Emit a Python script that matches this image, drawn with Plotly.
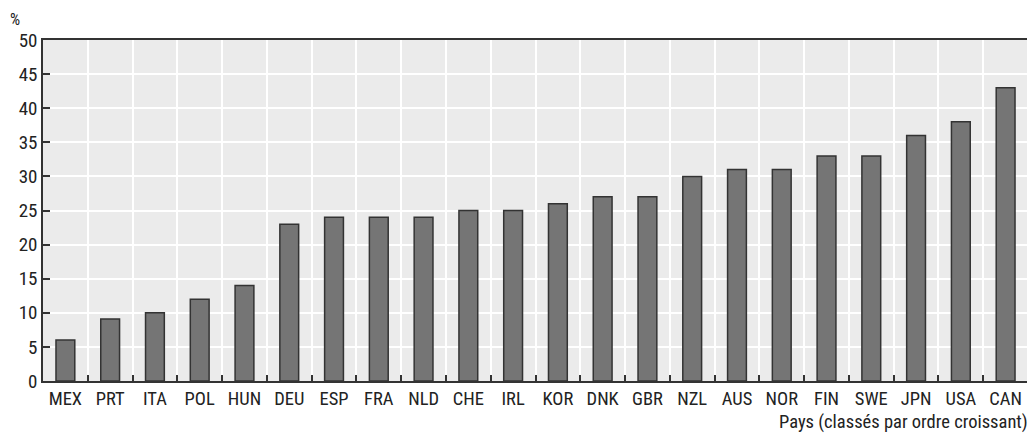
import plotly.graph_objects as go

countries = ["MEX", "PRT", "ITA", "POL", "HUN", "DEU", "ESP", "FRA", "NLD", "CHE", "IRL",
             "KOR", "DNK", "GBR", "NZL", "AUS", "NOR", "FIN", "SWE", "JPN", "USA", "CAN"]
values = [6, 9.1, 10, 12, 14, 23, 24, 24, 24, 25, 25, 26, 27, 27, 30, 31, 31, 33, 33, 36, 38, 43]
y_ticks = list(range(0, 51, 5))

FONT = "Roboto Condensed, Arial Narrow, sans-serif"

fig = go.Figure(go.Bar(
    x=countries, y=values,
    marker=dict(color="#757575", line=dict(color="#333333", width=1.5)),
))

# page body has an 8px default margin, so the figure is sized/offset to compensate
fig.update_layout(
    width=1027, height=426,
    margin=dict(l=35, r=7, t=32, b=53),
    paper_bgcolor="white", plot_bgcolor="#ebebeb",
    bargap=0.58, showlegend=False,
    font=dict(family=FONT, size=19, color="#222222"),
    xaxis=dict(
        type="category", tickson="boundaries", ticks="inside", ticklen=6,
        tickcolor="#333333", tickwidth=1.5, automargin=False, tickangle=0,
        showgrid=True, gridcolor="white", gridwidth=1.5,
        showline=True, linecolor="#333333", linewidth=1.5, mirror=True,
        tickfont=dict(family=FONT, size=18.5, color="#222222"),
    ),
    yaxis=dict(
        range=[0, 50], tickvals=y_ticks, ticks="inside", ticklen=7,
        tickcolor="#333333", tickwidth=1.5, automargin=False,
        showgrid=True, gridcolor="white", gridwidth=1.5, zeroline=False,
        showline=True, linecolor="#333333", linewidth=1.5, mirror=True,
        tickfont=dict(family=FONT, size=19, color="#222222"),
    ),
    annotations=[
        dict(text="%", xref="paper", yref="paper", x=-0.036, y=1.0938,
             xanchor="left", yanchor="top", showarrow=False,
             font=dict(family=FONT, size=16, color="#222222")),
        dict(text="Pays (classés par ordre croissant)", xref="paper", yref="paper",
             x=1.002, y=-0.12, xanchor="right", yanchor="middle", showarrow=False,
             font=dict(family=FONT, size=18.5, color="#222222")),
    ],
)

fig.write_html("out.html")
